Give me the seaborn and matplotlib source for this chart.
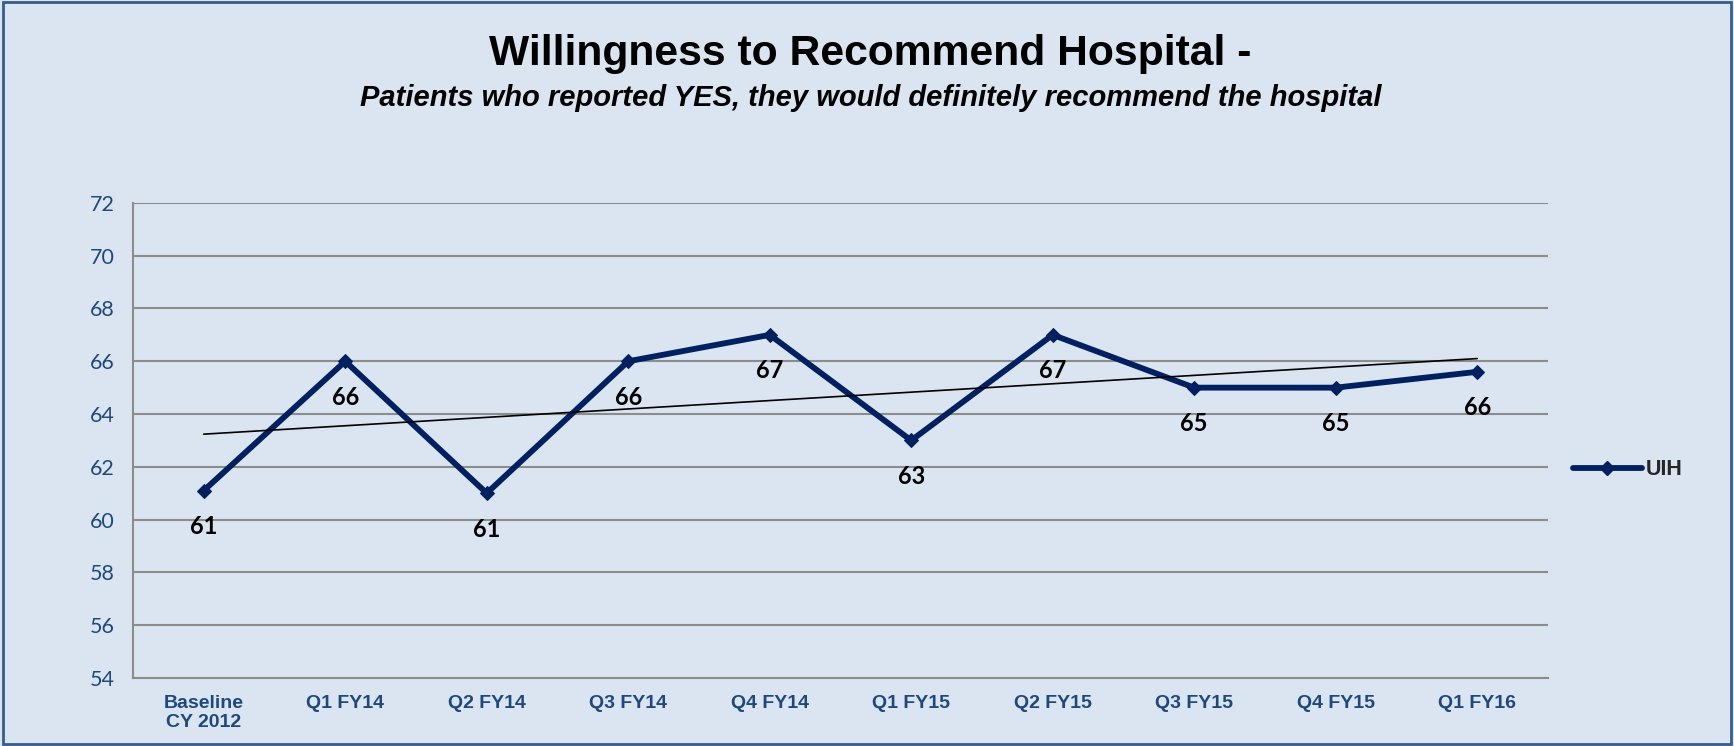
import numpy as np
import pandas as pd
import matplotlib
matplotlib.use("Agg")
import matplotlib.pyplot as plt
import seaborn as sns
from matplotlib.lines import Line2D
from matplotlib.patches import Rectangle

# Chart data
periods = ["Baseline\nCY 2012", "Q1 FY14", "Q2 FY14", "Q3 FY14", "Q4 FY14",
           "Q1 FY15", "Q2 FY15", "Q3 FY15", "Q4 FY15", "Q1 FY16"]
uih_values = [61.1, 66.0, 61.0, 66.0, 67.0, 63.0, 67.0, 65.0, 65.0, 65.6]
point_labels = ["61", "66", "61", "66", "67", "63", "67", "65", "65", "66"]
y_ticks = [54, 56, 58, 60, 62, 64, 66, 68, 70, 72]

bg = "#DBE5F1"
navy = "#002060"
tick_blue = "#1F497D"

sns.set_style("white")
plt.rcParams["font.family"] = ["Liberation Sans", "DejaVu Sans"]

df = pd.DataFrame({"idx": np.arange(len(periods)), "value": uih_values})

fig = plt.figure(figsize=(17.34, 7.46), dpi=100, facecolor=bg)
ax = fig.add_axes([0.0767, 0.0912, 0.8160, 0.6368])
ax.set_facecolor(bg)

# frame around the whole chart
fig.patches.append(Rectangle((0.002, 0.003), 0.996, 0.994, transform=fig.transFigure,
                             fill=False, edgecolor="#385D8A", linewidth=2))

sns.lineplot(data=df, x="idx", y="value", ax=ax, color=navy, linewidth=4.2,
             marker="D", markersize=7, markeredgecolor=navy, legend=False, zorder=3)

# linear trendline
coef = np.polyfit(df["idx"], df["value"], 1)
ax.plot(df["idx"], np.polyval(coef, df["idx"]), color="black", linewidth=1.2, zorder=4)

for i, (v, lab) in enumerate(zip(uih_values, point_labels)):
    ax.annotate(lab, (i, v), xytext=(0, -26), textcoords="offset points",
                ha="center", va="center", fontsize=17, fontweight="bold",
                color="black", family=["Lato", "DejaVu Sans"], zorder=5)

ax.set_xlim(-0.5, len(periods) - 0.5)
ax.set_ylim(54, 72)
ax.set_yticks(y_ticks)
ax.yaxis.grid(True, color="#8C8C8C", linewidth=1.5)
ax.set_axisbelow(True)

ax.set_xticks(np.arange(-0.5, len(periods), 1.0))
ax.set_xticklabels([])
ax.set_xticks(np.arange(len(periods)), minor=True)
ax.set_xticklabels(periods, minor=True, fontsize=14, fontweight="bold", color=tick_blue,
                   family=["Liberation Sans Narrow", "Liberation Sans"])
ax.tick_params(axis="x", which="major", length=7, width=1.2, color="#8C8C8C", direction="out")
ax.tick_params(axis="x", which="minor", length=0, pad=12)
ax.tick_params(axis="y", length=7, width=1.2, color="#8C8C8C", direction="out",
               labelsize=15.5, labelcolor=tick_blue, pad=6)
for t in ax.get_yticklabels():
    t.set_family(["Lato", "DejaVu Sans"])
ax.set_xlabel("")
ax.set_ylabel("")

for side in ["top", "right"]:
    ax.spines[side].set_visible(False)
for side in ["left", "bottom"]:
    ax.spines[side].set_color("#8C8C8C")
    ax.spines[side].set_linewidth(1.5)

fig.text(0.502, 0.913, "Willingness to Recommend Hospital -", ha="center", va="baseline",
         fontsize=30.7, fontweight="bold", color="black")
fig.text(0.502, 0.858, "Patients who reported YES, they would definitely recommend the hospital",
         ha="center", va="baseline", fontsize=21, fontweight="bold", style="italic", color="black")

handle = Line2D([], [], color=navy, linewidth=4.2, marker="D", markersize=7)
leg = fig.legend([handle], ["UIH"], loc="center left", bbox_to_anchor=(0.896, 0.37),
                 frameon=False, handlelength=3.2, handletextpad=0.2,
                 prop={"weight": "bold", "size": 15.5})

fig.savefig("out.png", dpi=100, facecolor=bg)
